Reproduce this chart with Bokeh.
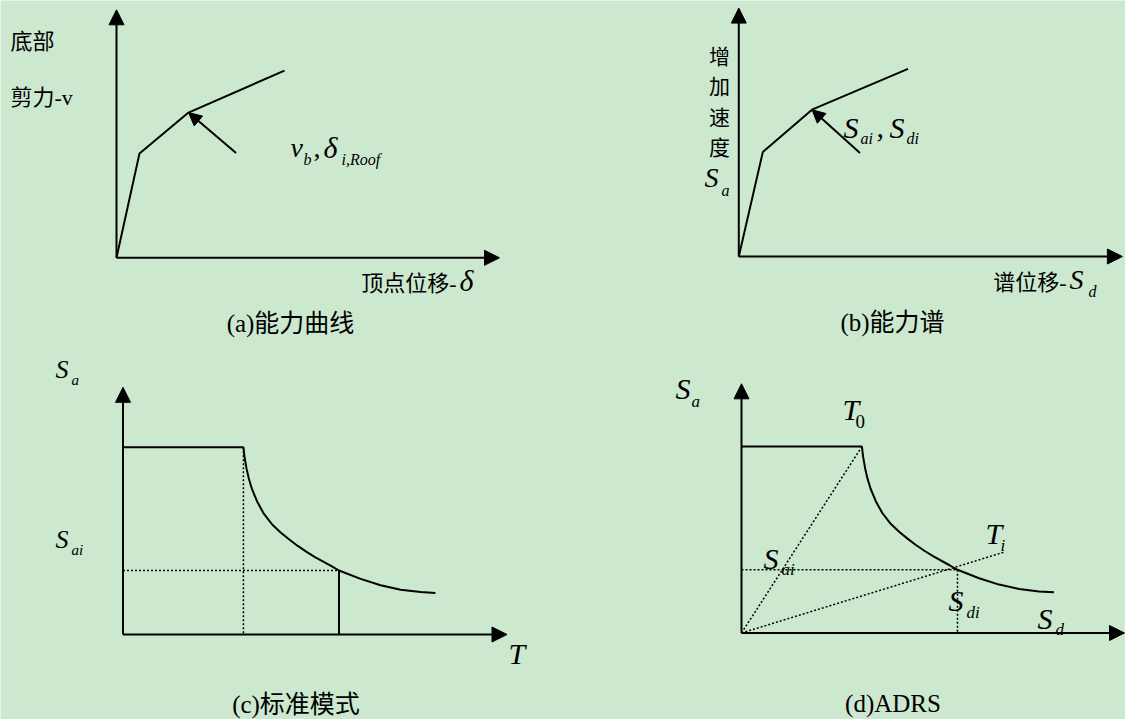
from bokeh.plotting import figure
from bokeh.models import Range1d, Arrow, NormalHead, Label
from bokeh.embed import file_html
from bokeh.resources import INLINE

W, H = 1125, 719
BG = "#CCE8CF"
UNIT = 40.0          # screen pixels per data unit in every panel
SERIF = "Liberation Serif"
MIXED = "Liberation Serif, Noto Sans CJK SC"

# ---- (a) capacity curve: roof displacement vs. base shear ----
cap_disp = [0.0, 0.575, 1.80, 4.20]
cap_shear = [0.0, 2.61, 3.63, 4.68]
cap_pointer_tail = (2.99, 2.62)

# ---- (b) capacity spectrum ----
cs_sd = [0.0, 0.60, 1.83, 4.23]
cs_sa = [0.0, 2.61, 3.67, 4.69]
cs_pointer_tail = (3.03, 2.59)

# ---- (c) standard response spectrum Sa(T) ----
rs_T = [0.0, 3.01, 3.04, 3.09, 3.15, 3.23, 3.36, 3.52, 3.73, 3.94, 4.15,
        4.36, 4.58, 4.81, 5.19, 5.40, 5.94, 6.44, 6.94, 7.44, 7.81]
rs_Sa = [4.68, 4.68, 4.43, 4.14, 3.88, 3.62, 3.31, 3.02, 2.75, 2.55, 2.38,
         2.22, 2.07, 1.93, 1.72, 1.60, 1.39, 1.23, 1.12, 1.06, 1.04]
rs_T0 = 3.01
rs_Ti, rs_Sai = 5.40, 1.60

# ---- (d) ADRS format ----
adrs_Sd = [0.0, 3.01, 3.04, 3.09, 3.15, 3.23, 3.36, 3.52, 3.73, 3.94, 4.15,
           4.36, 4.58, 4.81, 5.19, 5.40, 5.94, 6.44, 6.94, 7.44, 7.81]
adrs_Sa = [4.66, 4.66, 4.41, 4.12, 3.86, 3.60, 3.29, 3.00, 2.73, 2.53, 2.36,
           2.20, 2.05, 1.91, 1.70, 1.58, 1.37, 1.21, 1.10, 1.04, 1.02]
adrs_T0 = (3.01, 4.66)
adrs_Ti_end = (6.56, 2.02)
adrs_perf = (5.40, 1.58)

# panel origins on the page (px from left, px from top) and axis lengths
panels = {
    "a": dict(origin=(116, 257.3), axes=(9.575, 6.20)),
    "b": dict(origin=(738.3, 256), axes=(9.59, 6.21)),
    "c": dict(origin=(122.5, 634), axes=(9.60, 6.18)),
    "d": dict(origin=(741, 632.5), axes=(9.575, 6.23)),
}

p = figure(width=W, height=H, output_backend="svg", toolbar_location=None,
           x_range=Range1d(0, W), y_range=Range1d(H, 0),
           x_axis_type=None, y_axis_type=None, min_border=0)
p.grid.visible = False
p.outline_line_color = None
p.background_fill_color = BG
p.border_fill_color = BG

xr, yr = {}, {}
for key, cfg in panels.items():
    ox, oy = cfg["origin"]
    xr[key] = Range1d(-ox / UNIT, (W - ox) / UNIT)
    yr[key] = Range1d(-(H - oy) / UNIT, oy / UNIT)
p.extra_x_ranges = xr
p.extra_y_ranges = yr


def head(size=15):
    return NormalHead(size=size, fill_color="black", line_color="black", line_width=1)


def draw_axes(key):
    xl, yl = panels[key]["axes"]
    for xe, ye in ((xl, 0), (0, yl)):
        p.add_layout(Arrow(end=head(15), x_start=0, y_start=0, x_end=xe, y_end=ye,
                           line_width=2, line_color="black",
                           x_range_name=key, y_range_name=key))


def curve(key, xs, ys, dash="solid", width=2.0):
    p.line(xs, ys, x_range_name=key, y_range_name=key, line_color="black",
           line_width=width, line_dash=dash)


def pointer(key, tail, tip):
    p.add_layout(Arrow(end=head(13), x_start=tail[0], y_start=tail[1],
                       x_end=tip[0], y_end=tip[1], line_width=2, line_color="black",
                       x_range_name=key, y_range_name=key))


def lab(x, y, text, size, style="normal", align="left", font=MIXED, **kw):
    """Text centred vertically on y (page pixels from the top)."""
    p.add_layout(Label(x=x, y=y, text=text, text_font=font,
                       text_font_size=f"{size}px", text_font_style=style,
                       text_align=align, text_baseline="middle",
                       text_color="black", **kw))


def sym(x, base, text, size, style="italic"):
    """Serif math symbol whose baseline sits at `base`."""
    lab(x, base - 0.34 * size, text, size, style, font=SERIF)


# ---------------- (a) ----------------
draw_axes("a")
curve("a", cap_disp, cap_shear)
pointer("a", cap_pointer_tail, (cap_disp[2], cap_shear[2]))
lab(10, 41, "底部", 22)
lab(10, 97, "剪力-v", 22)
sym(290, 157, "v", 28)
sym(303, 164, "b", 16)
sym(313, 157, ",", 28, "normal")
sym(323, 157, "δ", 30)
sym(341, 164, "i,Roof", 16)
lab(456, 283, "顶点位移-", 22, align="right")
sym(459, 290, "δ", 30)
lab(290, 323, "(a)能力曲线", 25, align="center")

# ---------------- (b) ----------------
draw_axes("b")
curve("b", cs_sd, cs_sa)
pointer("b", cs_pointer_tail, (cs_sd[2], cs_sa[2]))
lab(719, 102, "增\n加\n速\n度", 21, align="center", text_line_height=1.27)
sym(704, 187, "S", 28)
sym(721, 195, "a", 16)
sym(843, 137, "S", 30)
sym(860, 143, "ai", 16)
sym(876, 137, ",", 30, "normal")
sym(889, 137, "S", 30)
sym(906, 143, "di", 16)
lab(1066, 282, "谱位移-", 22, align="right")
sym(1069, 289, "S", 28)
sym(1088, 296, "d", 16)
lab(892, 322, "(b)能力谱", 25, align="center")

# ---------------- (c) ----------------
draw_axes("c")
curve("c", rs_T, rs_Sa)
curve("c", [rs_T0, rs_T0], [rs_Sa[1], 0], dash="2 2", width=1.5)
curve("c", [0, rs_Ti], [rs_Sai, rs_Sai], dash="2 2", width=1.5)
curve("c", [rs_Ti, rs_Ti], [rs_Sai, 0])
sym(55, 378, "S", 26)
sym(71, 385, "a", 15)
sym(55, 548, "S", 26)
sym(71, 555, "ai", 15)
sym(508, 663, "T", 30)
lab(295.5, 704, "(c)标准模式", 25, align="center")

# ---------------- (d) ----------------
draw_axes("d")
curve("d", adrs_Sd, adrs_Sa)
curve("d", [0, adrs_T0[0]], [0, adrs_T0[1]], dash="2 2", width=1.5)
curve("d", [0, adrs_Ti_end[0]], [0, adrs_Ti_end[1]], dash="2 2", width=1.5)
curve("d", [0, adrs_perf[0]], [adrs_perf[1], adrs_perf[1]], dash="2 2", width=1.5)
curve("d", [adrs_perf[0], adrs_perf[0]], [adrs_perf[1], 0], dash="2 2", width=1.5)
sym(675, 398, "S", 30)
sym(691, 407, "a", 17)
sym(842, 419, "T", 30)
sym(855, 427, "0", 19, "normal")
sym(985, 542.7, "T", 30)
sym(1000, 551, "i", 17)
sym(763, 568, "S", 30)
sym(781, 575, "ai", 17)
sym(948, 610, "S", 30)
sym(966, 618, "di", 17)
sym(1037, 628, "S", 30)
sym(1055, 635, "d", 17)
lab(892.5, 703, "(d)ADRS", 25, align="center")

open("out.html", "w").write(file_html(p, INLINE))
